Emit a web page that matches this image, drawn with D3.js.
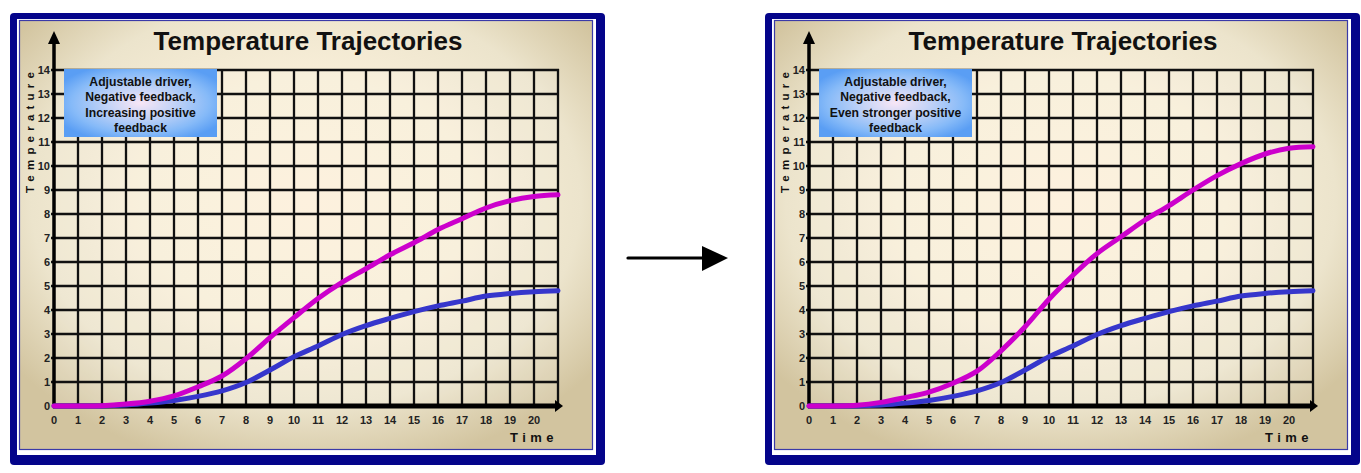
<!DOCTYPE html>
<html>
<head>
<meta charset="utf-8">
<script src="https://cdn.jsdelivr.net/npm/d3@7"></script>
<style>
  html, body { margin: 0; padding: 0; background: #ffffff; }
  svg { display: block; }
  text { font-family: "Liberation Sans", Arial, sans-serif; }
</style>
</head>
<body>
<svg id="chart" width="1361" height="473"></svg>
<script>
// ---------------- DATA ----------------
const timeSteps = d3.range(0, 22); // 0..21
const xTickLabels = d3.range(0, 21); // 0..20
const yTickLabels = d3.range(0, 15); // 0..14

const blueSeries = [0, 0, 0, 0.04, 0.12, 0.23, 0.4, 0.63, 0.98, 1.5, 2.05, 2.5, 2.98, 3.35, 3.65, 3.93, 4.17, 4.37, 4.58, 4.69, 4.76, 4.8];
const magentaLeft = [0, 0, 0.01, 0.08, 0.2, 0.42, 0.8, 1.25, 1.97, 2.85, 3.68, 4.48, 5.15, 5.72, 6.3, 6.8, 7.35, 7.8, 8.25, 8.55, 8.73, 8.8];
const magentaRight = [0, 0, 0.03, 0.15, 0.35, 0.58, 0.95, 1.45, 2.3, 3.3, 4.45, 5.45, 6.35, 7.05, 7.75, 8.35, 9.0, 9.6, 10.1, 10.5, 10.74, 10.8];

const titleText = "Temperature Trajectories";
const yTitle = "Temperature";
const xTitle = "Time";
const legendLeft = ["Adjustable driver,", "Negative feedback,", "Increasing positive", "feedback"];
const legendRight = ["Adjustable driver,", "Negative feedback,", "Even stronger positive", "feedback"];

// ---------------- DRAW ----------------
const svg = d3.select("#chart");
const defs = svg.append("defs");

const bg = defs.append("radialGradient").attr("id", "bgGrad")
  .attr("cx", "50%").attr("cy", "42%").attr("r", "64%").attr("fx", "50%").attr("fy", "42%");
bg.append("stop").attr("offset", "0%").attr("stop-color", "#fdf0da");
bg.append("stop").attr("offset", "45%").attr("stop-color", "#f8eed8");
bg.append("stop").attr("offset", "75%").attr("stop-color", "#ece4cc");
bg.append("stop").attr("offset", "100%").attr("stop-color", "#d2c49f");

const lg = defs.append("radialGradient").attr("id", "legGrad")
  .attr("cx", "50%").attr("cy", "50%").attr("r", "60%");
lg.append("stop").attr("offset", "0%").attr("stop-color", "#f8e6f6");
lg.append("stop").attr("offset", "35%").attr("stop-color", "#c6d4f6");
lg.append("stop").attr("offset", "75%").attr("stop-color", "#86baf8");
lg.append("stop").attr("offset", "100%").attr("stop-color", "#5a9ef4");

const x = d3.scaleLinear().domain([0, 21]).range([54, 558]);
const y = d3.scaleLinear().domain([0, 14]).range([406, 70]);

function drawPanel(offset, magenta, legendLines) {
  const g = svg.append("g").attr("transform", `translate(${offset},0)`);

  // frame
  g.append("rect").attr("x", 10).attr("y", 13).attr("width", 595).attr("height", 452)
    .attr("rx", 4).attr("fill", "#04048a");
  g.append("rect").attr("x", 17).attr("y", 19).attr("width", 579).attr("height", 436)
    .attr("fill", "#ffffff");
  g.append("rect").attr("x", 19.5).attr("y", 20.5).attr("width", 573).attr("height", 429)
    .attr("fill", "url(#bgGrad)").attr("stroke", "#3a3aa8").attr("stroke-width", 1.2);

  // plot area subtle lighter fill
  g.append("rect").attr("x", x(0)).attr("y", y(14)).attr("width", x(21) - x(0)).attr("height", y(0) - y(14))
    .attr("fill", "#ffffff").attr("opacity", 0.12);

  // title
  g.append("text").attr("x", 308).attr("y", 50).attr("text-anchor", "middle")
    .attr("font-size", 26).attr("font-weight", "bold").attr("fill", "#111").text(titleText);

  // grid
  const grid = g.append("g");
  grid.selectAll("line.v").data(timeSteps.slice(1)).join("line")
    .attr("x1", d => x(d)).attr("x2", d => x(d))
    .attr("y1", y(14) - 1).attr("y2", y(0))
    .attr("stroke", "#111").attr("stroke-width", 2.3);
  grid.selectAll("line.h").data(yTickLabels.slice(1)).join("line")
    .attr("x1", x(0) - 3).attr("x2", x(21) + 1)
    .attr("y1", d => y(d)).attr("y2", d => y(d))
    .attr("stroke", "#111").attr("stroke-width", 2.3);

  // y axis with arrow
  g.append("line").attr("x1", x(0)).attr("x2", x(0)).attr("y1", y(0) + 2).attr("y2", 40)
    .attr("stroke", "#000").attr("stroke-width", 3.5);
  g.append("path").attr("d", `M${x(0) - 6},${44} L${x(0)},${31} L${x(0) + 6},${44} Z`).attr("fill", "#000");

  // x axis with arrow
  g.append("line").attr("x1", x(0) - 1).attr("x2", 556).attr("y1", y(0)).attr("y2", y(0))
    .attr("stroke", "#000").attr("stroke-width", 5);
  g.append("path").attr("d", `M555,${y(0) - 6} L563,${y(0)} L555,${y(0) + 6} Z`).attr("fill", "#000");

  // tick labels
  g.selectAll("text.yt").data(yTickLabels).join("text")
    .attr("x", x(0) - 4).attr("y", d => y(d) + 4).attr("text-anchor", "end")
    .attr("font-size", 11).attr("font-weight", "bold").attr("fill", "#222").text(d => d);
  g.selectAll("text.xt").data(xTickLabels).join("text")
    .attr("x", d => x(d)).attr("y", 424).attr("text-anchor", "middle")
    .attr("font-size", 11).attr("font-weight", "bold").attr("fill", "#222").text(d => d);

  // axis titles
  g.append("text").attr("transform", "translate(34,130) rotate(-90)").attr("text-anchor", "middle")
    .attr("font-size", 11.5).attr("font-weight", "bold").attr("letter-spacing", 5.2).attr("fill", "#111")
    .text(yTitle);
  g.append("text").attr("x", 534).attr("y", 442).attr("text-anchor", "middle")
    .attr("font-size", 13).attr("font-weight", "bold").attr("letter-spacing", 4.5).attr("fill", "#111")
    .text(xTitle);

  // series
  const line = d3.line().x((d, i) => x(timeSteps[i])).y(d => y(d)).curve(d3.curveCatmullRom.alpha(0.5));
  g.append("path").datum(blueSeries).attr("d", line).attr("fill", "none")
    .attr("stroke", "#3636cc").attr("stroke-width", 5).attr("stroke-linecap", "round");
  g.append("path").datum(magenta).attr("d", line).attr("fill", "none")
    .attr("stroke", "#cc00cc").attr("stroke-width", 5).attr("stroke-linecap", "round");

  // legend box
  g.append("rect").attr("x", 64).attr("y", 69).attr("width", 153).attr("height", 68)
    .attr("fill", "url(#legGrad)");
  g.selectAll("text.lg").data(legendLines).join("text")
    .attr("x", 140.5).attr("y", (d, i) => 86 + i * 15.3).attr("text-anchor", "middle")
    .attr("font-size", 12.2).attr("font-weight", "bold").attr("fill", "#111").text(d => d);
}

drawPanel(0, magentaLeft, legendLeft);
drawPanel(755, magentaRight, legendRight);

// middle arrow
svg.append("line").attr("x1", 628).attr("x2", 704).attr("y1", 258).attr("y2", 258)
  .attr("stroke", "#000").attr("stroke-width", 3.2).attr("stroke-linecap", "round");
svg.append("path").attr("d", "M702,246 L728,258 L702,271 Z").attr("fill", "#000");
</script>
</body>
</html>
